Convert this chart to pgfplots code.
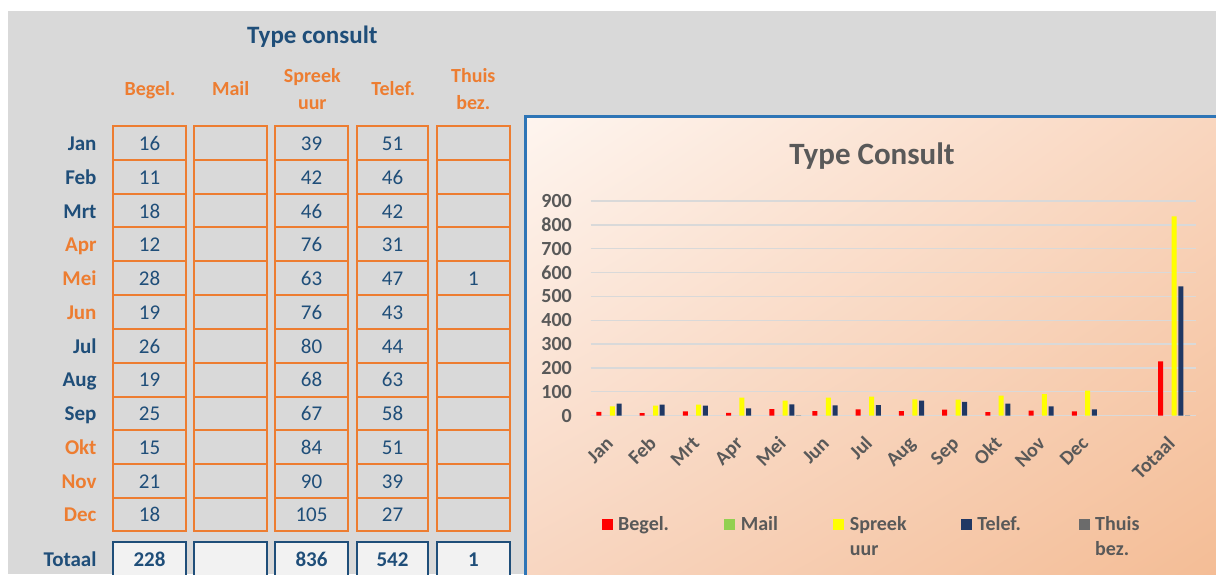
\documentclass[border=0pt]{standalone}
\usepackage{fontspec}
\setmainfont{Carlito}
\usepackage{pgfplots}
\pgfplotsset{compat=1.18}
\usepackage{pgfplotstable}
\usetikzlibrary{shadings}

\definecolor{bggray}{HTML}{D9D9D9}
\definecolor{dblue}{HTML}{1F4E79}
\definecolor{ora}{HTML}{ED7D31}
\definecolor{panelblue}{HTML}{2E75B6}
\definecolor{lblgray}{HTML}{595959}
\definecolor{gridc}{HTML}{D9D9D9}
\definecolor{cA}{HTML}{FEF5EF}
\definecolor{cB}{HTML}{F9D6BF}
\definecolor{cC}{HTML}{F8D6C1}
\definecolor{cD}{HTML}{F4BD96}
\definecolor{cred}{HTML}{FF0000}
\definecolor{cmail}{HTML}{92D050}
\definecolor{cyel}{HTML}{FFFF00}
\definecolor{cnavy}{HTML}{203864}
\definecolor{cthuis}{HTML}{6B6B6B}
\definecolor{totfill}{HTML}{F2F2F2}

\newcommand{\fs}[1]{\fontsize{#1}{#1}\selectfont}

\pgfplotstableread{
x begel spreek telef thuis
0 16 39 51 nan
1 11 42 46 nan
2 18 46 42 nan
3 12 76 31 nan
4 28 63 47 1
5 19 76 43 nan
6 26 80 44 nan
7 19 68 63 nan
8 25 67 58 nan
9 15 84 51 nan
10 21 90 39 nan
11 18 105 27 nan
13 228 836 542 1
}\chartdata

\begin{document}
\begin{tikzpicture}
\begin{scope}[x=1pt,y=-1pt,yshift=574pt]
  \path[use as bounding box] (0,0) rectangle (1216,574);
  \fill[white] (0,0) rectangle (1216,574);
  \fill[bggray] (8,11) rectangle (1216,574);
  % table title
  \node[anchor=base, text=dblue, font=\bfseries\fs{25}, inner sep=0] at (312.3,44) {Type consult};
  % headers
  \node[anchor=base, text=ora, font=\bfseries\fs{20}, inner sep=0] at (150,96) {Begel.};
  \node[anchor=base, text=ora, font=\bfseries\fs{20}, inner sep=0] at (230.7,96) {Mail};
  \node[anchor=base, text=ora, font=\bfseries\fs{20}, inner sep=0] at (312.3,82.7) {Spreek};
  \node[anchor=base, text=ora, font=\bfseries\fs{20}, inner sep=0] at (312.3,110) {uur};
  \node[anchor=base, text=ora, font=\bfseries\fs{20}, inner sep=0] at (393.3,96) {Telef.};
  \node[anchor=base, text=ora, font=\bfseries\fs{20}, inner sep=0] at (473.3,82.7) {Thuis};
  \node[anchor=base, text=ora, font=\bfseries\fs{20}, inner sep=0] at (473.3,110) {bez.};
  % table boxes
  \foreach \xa/\xb in {113/186,194/267,275/348,357/428,437/510} {
    \foreach \yy in {160,194,227.5,261.5,295,329,362.5,396.5,430,464,497.5} {\draw[ora, line width=2pt] (\xa,\yy) -- (\xb,\yy);}
    \draw[ora, line width=1.6pt] (\xa,126) rectangle (\xb,531);
    \draw[dblue, fill=totfill, line width=1.6pt] (\xa,541.7) rectangle (\xb,580);
  }
  % rows
  \foreach \m/\col/\a/\s/\t [count=\i] in {Jan/dblue/16/39/51, Feb/dblue/11/42/46, Mrt/dblue/18/46/42, Apr/ora/12/76/31, Mei/ora/28/63/47, Jun/ora/19/76/43, Jul/dblue/26/80/44, Aug/dblue/19/68/63, Sep/dblue/25/67/58, Okt/ora/15/84/51, Nov/ora/21/90/39, Dec/ora/18/105/27} {
    \pgfmathsetmacro\yc{126+33.75*(\i-0.5)+7.7}
    \node[anchor=base east, text=\col, font=\bfseries\fs{21}, inner sep=0] at (96.7,\yc) {\m};
    \node[anchor=base, text=dblue, font=\fs{21}, inner sep=0] at (149.5,\yc) {\a};
    \node[anchor=base, text=dblue, font=\fs{21}, inner sep=0] at (311.5,\yc) {\s};
    \node[anchor=base, text=dblue, font=\fs{21}, inner sep=0] at (392.5,\yc) {\t};
  }
  \node[anchor=base, text=dblue, font=\fs{21}, inner sep=0] at (473.5,126+33.75*4.5+7.7) {1};
  % totals
  \node[anchor=base east, text=dblue, font=\bfseries\fs{21}, inner sep=0] at (96.7,566.7) {Totaal};
  \node[anchor=base, text=dblue, font=\bfseries\fs{21}, inner sep=0] at (149.5,566.7) {228};
  \node[anchor=base, text=dblue, font=\bfseries\fs{21}, inner sep=0] at (311.5,566.7) {836};
  \node[anchor=base, text=dblue, font=\bfseries\fs{21}, inner sep=0] at (392.5,566.7) {542};
  \node[anchor=base, text=dblue, font=\bfseries\fs{21}, inner sep=0] at (473.5,566.7) {1};
  % chart panel
  \shade[upper left=cA, upper right=cB, lower left=cC, lower right=cD] (525,117) rectangle (1216,574);
  \draw[panelblue, line width=3pt] (1218,117) -- (525,117) -- (525,576);
  \node[anchor=base, text=lblgray, font=\bfseries\fs{31}, inner sep=0] at (872,165) {Type Consult};
\end{scope}

\begin{axis}[
  at={(590.7pt,158.3pt)}, anchor=south west,
  scale only axis, width=605pt, height=214.7pt,
  xmin=-0.5, xmax=13.5, ymin=0, ymax=900,
  axis line style={draw=none},
  major tick length=0pt,
  ytick={0,100,...,900},
  yticklabels={0,100,200,300,400,500,600,700,800,900},
  ymajorgrids, major grid style={draw=gridc, line width=1.3pt},
  xtick={0,1,2,3,4,5,6,7,8,9,10,11,13},
  xticklabels={Jan,Feb,Mrt,Apr,Mei,Jun,Jul,Aug,Sep,Okt,Nov,Dec,Totaal},
  ticklabel style={font=\bfseries\fs{20}, text=lblgray},
  yticklabel style={anchor=east, inner sep=0pt, xshift=-18.7pt},
  xticklabel style={anchor=base east, inner sep=0pt, xshift=2pt, yshift=-29pt, rotate=45},
  clip=false,
]
\addplot[ybar, bar width=5pt, bar shift=-13.4pt, fill=cred, draw=none] table[x=x,y=begel]{\chartdata};
\addplot[ybar, bar width=5pt, bar shift=0pt, fill=cyel, draw=none] table[x=x,y=spreek]{\chartdata};
\addplot[ybar, bar width=5pt, bar shift=6.7pt, fill=cnavy, draw=none] table[x=x,y=telef]{\chartdata};
\addplot[ybar, bar width=5pt, bar shift=13.4pt, fill=cthuis, draw=none] table[x=x,y=thuis]{\chartdata};
\end{axis}

\begin{scope}[x=1pt,y=-1pt,yshift=574pt]
  \foreach \sx/\c/\l [count=\j] in {601.7/cred/Begel., 724.3/cmail/Mail, 833.3/cyel/Spreek, 960.9/cnavy/Telef., 1078.7/cthuis/Thuis} {
    \fill[\c] (\sx,518.5) rectangle (\sx+11,529.5);
    \node[anchor=base west, text=lblgray, font=\bfseries\fs{20}, inner sep=0] at (\sx+16.3,530) {\l};
  }
  \node[anchor=base west, text=lblgray, font=\bfseries\fs{20}, inner sep=0] at (833.3+16.3,555) {uur};
  \node[anchor=base west, text=lblgray, font=\bfseries\fs{20}, inner sep=0] at (1078.7+16.3,555) {bez.};
\end{scope}
\end{tikzpicture}
\end{document}
